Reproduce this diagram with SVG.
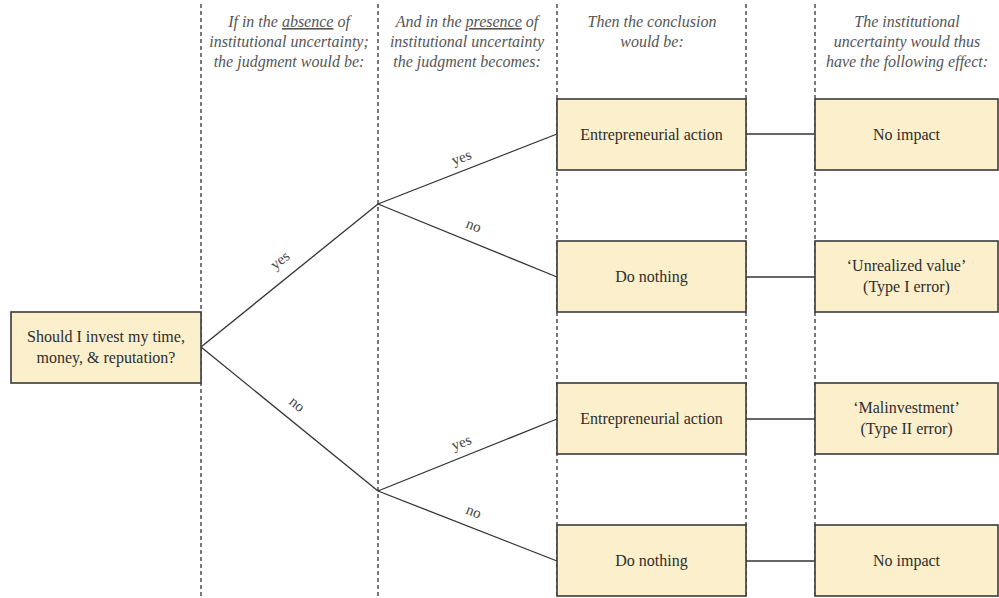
<svg xmlns="http://www.w3.org/2000/svg" width="999" height="598" viewBox="0 0 999 598">
<style>
.bg{fill:#ffffff}
.guide{stroke:#333;stroke-width:1.3;stroke-dasharray:4,3;fill:none}
.box{fill:#FCEFCB;stroke:#3a3a3a;stroke-width:1.6}
.lbl{font-family:"Liberation Serif","Times New Roman",serif;font-size:16px;fill:#2e2e2e;text-anchor:middle}
.hdr{font-family:"Liberation Serif","Times New Roman",serif;font-size:16px;font-style:italic;fill:#555;text-anchor:middle}
.edge{stroke:#333;stroke-width:1.3;fill:none}
.elbl{font-family:"Liberation Serif","Times New Roman",serif;font-size:15px;fill:#444;text-anchor:middle}
</style>
<rect class="bg" x="0" y="0" width="999" height="598"/>
<g id="guides">
<line class="guide" x1="201" y1="4" x2="201" y2="596"/>
<line class="guide" x1="378" y1="4" x2="378" y2="596"/>
<line class="guide" x1="557" y1="4" x2="557" y2="596"/>
<line class="guide" x1="746" y1="4" x2="746" y2="596"/>
<line class="guide" x1="815" y1="4" x2="815" y2="596"/>
</g>
<g id="headers">
<text class="hdr" x="289" y="27">If in the <tspan text-decoration="underline">absence</tspan> of</text>
<text class="hdr" x="289" y="47">institutional uncertainty;</text>
<text class="hdr" x="289" y="67">the judgment would be:</text>
<text class="hdr" x="467" y="27">And in the <tspan text-decoration="underline">presence</tspan> of</text>
<text class="hdr" x="467" y="47">institutional uncertainty</text>
<text class="hdr" x="467" y="67">the judgment becomes:</text>
<text class="hdr" x="652" y="27">Then the conclusion</text>
<text class="hdr" x="652" y="47">would be:</text>
<text class="hdr" x="907" y="27">The institutional</text>
<text class="hdr" x="907" y="47">uncertainty would thus</text>
<text class="hdr" x="907" y="67">have the following effect:</text>
</g>
<g id="connectors">
<line class="edge" x1="201" y1="347" x2="378" y2="204"/>
<line class="edge" x1="201" y1="347" x2="378" y2="491"/>
<line class="edge" x1="378" y1="204" x2="557" y2="134"/>
<line class="edge" x1="378" y1="204" x2="557" y2="277"/>
<line class="edge" x1="378" y1="491" x2="557" y2="419"/>
<line class="edge" x1="378" y1="491" x2="557" y2="561"/>
<line class="edge" x1="746" y1="134" x2="815" y2="134"/>
<line class="edge" x1="746" y1="277" x2="815" y2="277"/>
<line class="edge" x1="746" y1="419" x2="815" y2="419"/>
<line class="edge" x1="746" y1="561" x2="815" y2="561"/>
<text class="elbl" transform="translate(283,264) rotate(-39)">yes</text>
<text class="elbl" transform="translate(294,408) rotate(39)">no</text>
<text class="elbl" transform="translate(463,162) rotate(-21)">yes</text>
<text class="elbl" transform="translate(472,230) rotate(22)">no</text>
<text class="elbl" transform="translate(463,447) rotate(-21)">yes</text>
<text class="elbl" transform="translate(472,516) rotate(22)">no</text>
</g>
<g id="start">
<rect class="box" x="11" y="312" width="190" height="71"/>
<text class="lbl" x="106" y="342">Should I invest my time,</text>
<text class="lbl" x="106" y="363">money, &amp; reputation?</text>
</g>
<g id="c1">
<rect class="box" x="557" y="99" width="189" height="71"/>
<text class="lbl" x="651.5" y="140">Entrepreneurial action</text>
</g>
<g id="c2">
<rect class="box" x="557" y="241" width="189" height="71"/>
<text class="lbl" x="651.5" y="282">Do nothing</text>
</g>
<g id="c3">
<rect class="box" x="557" y="383" width="189" height="71"/>
<text class="lbl" x="651.5" y="424">Entrepreneurial action</text>
</g>
<g id="c4">
<rect class="box" x="557" y="525" width="189" height="71"/>
<text class="lbl" x="651.5" y="566">Do nothing</text>
</g>
<g id="e1">
<rect class="box" x="815" y="99" width="183" height="71"/>
<text class="lbl" x="906.5" y="140">No impact</text>
</g>
<g id="e2">
<rect class="box" x="815" y="241" width="183" height="71"/>
<text class="lbl" x="906.5" y="271">‘Unrealized value’</text>
<text class="lbl" x="906.5" y="292">(Type I error)</text>
</g>
<g id="e3">
<rect class="box" x="815" y="383" width="183" height="71"/>
<text class="lbl" x="906.5" y="413">‘Malinvestment’</text>
<text class="lbl" x="906.5" y="434">(Type II error)</text>
</g>
<g id="e4">
<rect class="box" x="815" y="525" width="183" height="71"/>
<text class="lbl" x="906.5" y="566">No impact</text>
</g>
</svg>
